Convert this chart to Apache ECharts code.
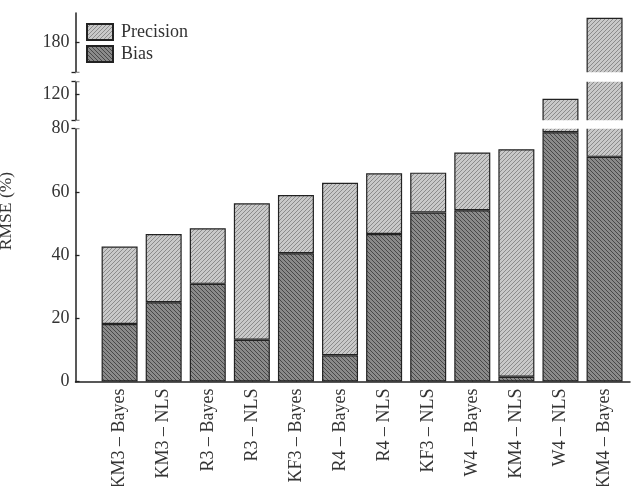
<!DOCTYPE html>
<html>
<head>
<meta charset="utf-8">
<script src="https://cdn.jsdelivr.net/npm/echarts@6/dist/echarts.min.js"></script>
<style>
  html, body { margin: 0; padding: 0; background: #fff; }
  #chart { width: 633px; height: 486px; }
</style>
</head>
<body>
<div id="chart"></div>
<script>
// values
var categories = ['KM3 – Bayes', 'KM3 – NLS', 'R3 – Bayes', 'R3 – NLS', 'KF3 – Bayes', 'R4 – Bayes',
                  'R4 – NLS', 'KF3 – NLS', 'W4 – Bayes', 'KM4 – NLS', 'W4 – NLS', 'KM4 – Bayes'];
var bias      = [18.2, 25.1, 30.9, 13.2, 40.6, 8.3, 46.7, 53.5, 54.2, 1.5, 78.9, 71.1];
var precision = [24.5, 21.6, 17.6, 43.2, 18.4, 54.6, 19.2, 12.6, 18.3, 72.0, 39.7, 116.7];
var yTicks = [0, 20, 40, 60, 80, 120, 180];
var yBreaks = [[80, 111.65], [124.2, 170.5]];   // cut-out ranges of the RMSE axis
var yMax = 189.3;

var FONT = 'Liberation Serif';
var INK = '#222';

// diagonal hatch fill
function hatch(bg, fg, dir) {
    var c = document.createElement('canvas');
    c.width = 4; c.height = 4;
    var g = c.getContext('2d');
    g.fillStyle = bg;
    g.fillRect(0, 0, 4, 4);
    g.strokeStyle = fg;
    g.lineWidth = 1;
    g.beginPath();
    if (dir > 0) {
        g.moveTo(-1, 5); g.lineTo(5, -1);
        g.moveTo(-1, 1); g.lineTo(1, -1);
        g.moveTo(3, 5); g.lineTo(5, 3);
    } else {
        g.moveTo(-1, -1); g.lineTo(5, 5);
        g.moveTo(3, -1); g.lineTo(5, 1);
        g.moveTo(-1, 3); g.lineTo(1, 5);
    }
    g.stroke();
    return { image: c, repeat: 'repeat' };
}

function breakList() {
    return [
        { start: yBreaks[0][0], end: yBreaks[0][1], gap: 2.53 },
        { start: yBreaks[1][0], end: yBreaks[1][1], gap: 2.75 }
    ];
}
var breakArea = {
    show: true,
    itemStyle: { color: '#fff', borderWidth: 0, opacity: 1 },
    zigzagAmplitude: 0,
    zigzagZ: 100,
    expandOnClick: false
};
// ends of the axis pieces next to each cut
var capTicks = [80, yBreaks[0][1] + 0.05, yBreaks[1][0] - 0.05, yBreaks[1][1] + 0.05];

var myChart = echarts.init(document.getElementById('chart'), null, { renderer: 'canvas' });
var option = {
    animation: false,
    backgroundColor: '#fff',
    textStyle: { fontFamily: FONT },
    grid: [
        // bars
        { left: 97.55, right: 6.4, top: 13, bottom: 104.5, outerBoundsMode: 'none', containLabel: false },
        // axis frame
        { left: 75.5, right: 3, top: 13, bottom: 104.5, outerBoundsMode: 'none', containLabel: false }
    ],
    legend: {
        data: ['Precision', 'Bias'],
        orient: 'vertical',
        left: 86,
        top: 23,
        padding: 0,
        itemWidth: 26,
        itemHeight: 16,
        itemGap: 4,
        icon: 'rect',
        textStyle: { fontFamily: FONT, fontSize: 18, color: '#333', padding: [0, 0, 0, 3] }
    },
    xAxis: [
        {
            type: 'category',
            gridIndex: 0,
            data: categories,
            axisLine: { show: false },
            axisTick: { show: true, inside: true, alignWithLabel: true, length: 3, lineStyle: { color: INK } },
            axisLabel: { interval: 0, rotate: 90, margin: 7, fontFamily: FONT, fontSize: 18, color: '#333' },
            splitLine: { show: false }
        },
        {
            type: 'value',
            gridIndex: 1,
            min: 0,
            max: 1,
            axisLine: { show: true, onZero: false, lineStyle: { color: INK, width: 1.5 } },
            axisTick: { show: false },
            axisLabel: { show: false },
            splitLine: { show: false }
        }
    ],
    yAxis: [
        {
            type: 'value',
            gridIndex: 0,
            position: 'left',
            min: 0,
            max: yMax,
            breaks: breakList(),
            breakArea: breakArea,
            axisLine: { show: false },
            axisTick: { show: false },
            axisLabel: { show: false },
            splitLine: { show: false }
        },
        {
            type: 'value',
            gridIndex: 1,
            position: 'left',
            min: 0,
            max: yMax,
            breaks: breakList(),
            breakArea: breakArea,
            splitLine: { show: false },
            axisLine: { show: true, onZero: false, lineStyle: { color: INK, width: 1.5 } },
            axisTick: { show: true, inside: true, length: 4, customValues: yTicks.concat(capTicks.slice(1)), lineStyle: { color: INK, width: 1.3 } },
            axisLabel: { customValues: yTicks, margin: 6, fontFamily: FONT, fontSize: 18, color: '#333' }
        },
        {
            type: 'value',
            gridIndex: 1,
            position: 'left',
            offset: 0,
            min: 0,
            max: yMax,
            breaks: breakList(),
            breakArea: { show: false },
            splitLine: { show: false },
            axisLine: { show: false, onZero: false },
            axisTick: { show: true, inside: false, length: 4, customValues: capTicks, lineStyle: { color: INK, width: 1.3 } },
            axisLabel: { show: false }
        }
    ],
    graphic: [{
        type: 'text',
        x: 6,
        y: 211,
        rotation: Math.PI / 2,
        style: { text: 'RMSE (%)', font: '17.5px "Liberation Serif"', fill: '#333', align: 'center', verticalAlign: 'middle' }
    }],
    series: [
        {
            name: 'Bias',
            type: 'bar',
            stack: 'rmse',
            xAxisIndex: 0,
            yAxisIndex: 0,
            barWidth: 36,
            itemStyle: { color: hatch('#8a8a8a', '#484848', -1), borderColor: INK, borderWidth: 1.2 },
            data: bias
        },
        {
            name: 'Precision',
            type: 'bar',
            stack: 'rmse',
            xAxisIndex: 0,
            yAxisIndex: 0,
            barWidth: 36,
            itemStyle: { color: hatch('#c9c9c9', '#8c8c8c', 1), borderColor: INK, borderWidth: 1.2 },
            data: precision
        }
    ]
};
myChart.setOption(option);
</script>
</body>
</html>
